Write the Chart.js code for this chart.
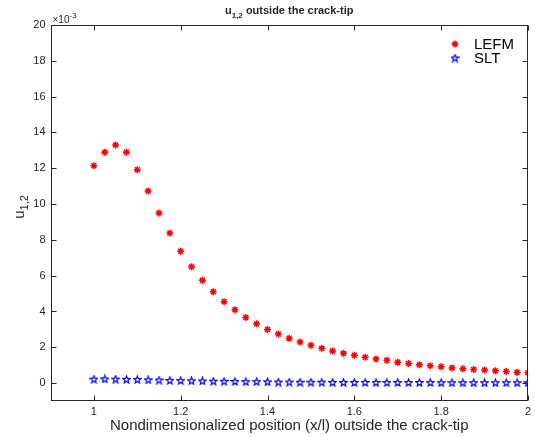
<!DOCTYPE html>
<html>
<head>
<meta charset="utf-8">
<script src="https://cdn.jsdelivr.net/npm/chart.js@4/dist/chart.umd.min.js"></script>
<style>
  html, body { margin: 0; padding: 0; background: #fff; }
  #wrap { width: 535px; height: 437px; }
</style>
</head>
<body>
<div id="wrap"><canvas id="myChart" width="535" height="437"></canvas></div>
<script>
// values in units of 1e-3
const positions = [1, 1.025, 1.05, 1.075, 1.1, 1.125, 1.15, 1.175, 1.2, 1.225,
    1.25, 1.275, 1.3, 1.325, 1.35, 1.375, 1.4, 1.425, 1.45, 1.475,
    1.5, 1.525, 1.55, 1.575, 1.6, 1.625, 1.65, 1.675, 1.7, 1.725,
    1.75, 1.775, 1.8, 1.825, 1.85, 1.875, 1.9, 1.925, 1.95, 1.975, 2];
const lefm = [12.14, 12.89, 13.30, 12.89, 11.92, 10.73, 9.50, 8.38, 7.36, 6.50,
    5.74, 5.10, 4.54, 4.09, 3.67, 3.31, 3.00, 2.74, 2.51, 2.29,
    2.11, 1.94, 1.79, 1.66, 1.55, 1.44, 1.34, 1.27, 1.17, 1.10,
    1.02, 0.97, 0.91, 0.85, 0.80, 0.76, 0.73, 0.69, 0.65, 0.61, 0.58];
const slt = [0.22, 0.23, 0.22, 0.21, 0.20, 0.18, 0.17, 0.15, 0.14, 0.13,
    0.12, 0.11, 0.10, 0.09, 0.08, 0.08, 0.07, 0.06, 0.06, 0.05,
    0.05, 0.05, 0.04, 0.04, 0.04, 0.04, 0.03, 0.03, 0.03, 0.03,
    0.03, 0.03, 0.02, 0.02, 0.02, 0.02, 0.02, 0.02, 0.02, 0.02, 0.02];
const xTicks = [1, 1.2, 1.4, 1.6, 1.8, 2];
const yTicks = [0, 2, 4, 6, 8, 10, 12, 14, 16, 18, 20];

const axisColor = '#262626';
const fontFamily = '"Liberation Sans", Arial, Helvetica, sans-serif';

// blue pentagram marker (matlab 'p')
function makePentagram(color) {
    const c = document.createElement('canvas');
    c.width = 9; c.height = 9;
    const g = c.getContext('2d');
    g.strokeStyle = color;
    g.lineWidth = 1.2;
    g.beginPath();
    for (let i = 0; i < 10; i++) {
        const r = i % 2 === 0 ? 3.8 : 1.6;
        const a = -Math.PI / 2 + i * Math.PI / 5;
        const px = 4.5 + r * Math.cos(a);
        const py = 4.8 + r * Math.sin(a);
        if (i === 0) g.moveTo(px, py); else g.lineTo(px, py);
    }
    g.closePath();
    g.stroke();
    return c;
}
const pentagram = makePentagram('#0000ff');

const boxPlugin = {
    id: 'boxPlugin',
    afterDraw(chart) {
        const ctx = chart.ctx;
        const a = chart.chartArea;
        const xs = chart.scales.x;
        const ys = chart.scales.y;
        const L = Math.round(a.left) + 0.5, R = Math.round(a.right) - 0.5;
        const T = Math.round(a.top) + 0.5, B = Math.round(a.bottom) - 0.5;
        ctx.save();
        ctx.strokeStyle = axisColor;
        ctx.lineWidth = 1;
        ctx.strokeRect(L, T, R - L, B - T);
        ctx.beginPath();
        xTicks.forEach(v => {
            const px = Math.round(xs.getPixelForValue(v)) + 0.5;
            ctx.moveTo(px, B); ctx.lineTo(px, B - 5);
            ctx.moveTo(px, T); ctx.lineTo(px, T + 5);
        });
        yTicks.forEach(v => {
            const py = Math.round(ys.getPixelForValue(v)) + 0.5;
            ctx.moveTo(L, py); ctx.lineTo(L + 5, py);
            ctx.moveTo(R, py); ctx.lineTo(R - 5, py);
        });
        ctx.stroke();

        ctx.fillStyle = axisColor;
        ctx.textBaseline = 'alphabetic';
        // title with subscript
        const cx = (a.left + a.right) / 2;
        ctx.font = 'bold 11px ' + fontFamily;
        const t1 = 'u';
        const t3 = ' outside the crack-tip';
        const w1 = ctx.measureText(t1).width;
        const w3 = ctx.measureText(t3).width;
        ctx.font = 'bold 8px ' + fontFamily;
        const w2 = ctx.measureText('1,2').width;
        const tx = cx - (w1 + w2 + w3) / 2;
        ctx.textAlign = 'left';
        ctx.font = 'bold 11px ' + fontFamily;
        ctx.fillText(t1, tx, 14);
        ctx.font = 'bold 8px ' + fontFamily;
        ctx.fillText('1,2', tx + w1, 18);
        ctx.font = 'bold 11px ' + fontFamily;
        ctx.fillText(t3, tx + w1 + w2, 14);

        // exponent label
        ctx.font = '10px ' + fontFamily;
        ctx.fillText('\u00d710', a.left + 2, 23);
        const ew = ctx.measureText('\u00d710').width;
        ctx.font = '8px ' + fontFamily;
        ctx.fillText('-3', a.left + 2 + ew, 18);

        // x axis label
        ctx.font = '15px ' + fontFamily;
        ctx.textAlign = 'center';
        ctx.fillText('Nondimensionalized position (x/l) outside the crack-tip', cx, 430);

        // y axis label
        ctx.save();
        ctx.translate(24, (a.top + a.bottom) / 2 - 6);
        ctx.rotate(-Math.PI / 2);
        ctx.textAlign = 'left';
        ctx.font = '15px ' + fontFamily;
        const uw = ctx.measureText('u').width;
        ctx.font = '11px ' + fontFamily;
        const sw = ctx.measureText('1,2').width;
        const sx = -(uw + sw) / 2;
        ctx.font = '15px ' + fontFamily;
        ctx.fillText('u', sx, 0);
        ctx.font = '11px ' + fontFamily;
        ctx.fillText('1,2', sx + uw, 4);
        ctx.restore();

        // legend
        ctx.save();
        ctx.strokeStyle = '#ff0000';
        ctx.lineWidth = 1.5;
        Chart.helpers.drawPoint(ctx, { pointStyle: 'star', radius: 3.5, borderWidth: 1.5 }, 455, 44);
        ctx.restore();
        ctx.drawImage(pentagram, 455 - 4.5, 58 - 4.5);
        ctx.font = '15px ' + fontFamily;
        ctx.textAlign = 'left';
        ctx.textBaseline = 'middle';
        ctx.fillStyle = '#000';
        ctx.fillText('LEFM', 474, 45);
        ctx.fillText('SLT', 474, 59);
        ctx.restore();
    }
};

const ctx = document.getElementById('myChart').getContext('2d');
const myChart = new Chart(ctx, {
    type: 'scatter',
    data: {
        datasets: [{
            label: 'LEFM',
            data: positions.map((x, i) => ({ x: x, y: lefm[i] })),
            pointStyle: 'star',
            pointRadius: 3.5,
            pointBorderWidth: 1.5,
            borderColor: '#ff0000',
            backgroundColor: '#ff0000'
        }, {
            label: 'SLT',
            data: positions.map((x, i) => ({ x: x, y: slt[i] })),
            pointStyle: pentagram,
            pointRadius: 4,
            borderColor: '#0000ff',
            backgroundColor: '#0000ff'
        }]
    },
    options: {
        responsive: false,
        animation: false,
        layout: { padding: { top: 25, right: 6, left: 0, bottom: 0 } },
        plugins: {
            legend: { display: false },
            title: { display: false },
            tooltip: { enabled: false }
        },
        scales: {
            x: {
                type: 'linear',
                min: 0.9,
                max: 2,
                afterBuildTicks: s => { s.ticks = xTicks.map(v => ({ value: v })); },
                afterFit: s => { s.height = 36; },
                grid: { display: false, drawTicks: false },
                border: { display: false },
                ticks: {
                    padding: 4,
                    color: axisColor,
                    font: { family: fontFamily, size: 11 },
                    callback: v => String(+v.toFixed(1))
                }
            },
            y: {
                type: 'linear',
                min: -1,
                max: 20,
                afterBuildTicks: s => { s.ticks = yTicks.map(v => ({ value: v })); },
                afterFit: s => { s.width = 50.5; },
                grid: { display: false, drawTicks: false },
                border: { display: false },
                ticks: {
                    padding: 5,
                    color: axisColor,
                    font: { family: fontFamily, size: 11 },
                    callback: v => String(v)
                }
            }
        }
    },
    plugins: [boxPlugin]
});
</script>
</body>
</html>
